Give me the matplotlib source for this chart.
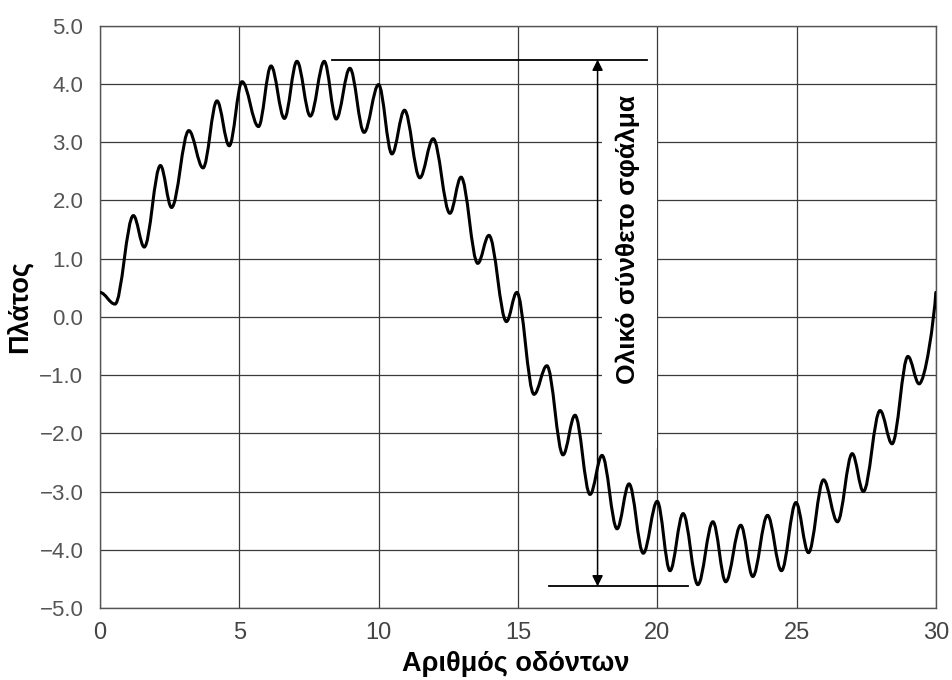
import matplotlib
matplotlib.use('Agg')
import matplotlib.pyplot as plt
from matplotlib.path import Path
from matplotlib.patches import PathPatch, Rectangle

# turning points of the composite error curve
tooth = [0.0, 0.54, 1.2, 1.59, 2.17, 2.57, 3.19, 3.7, 4.2, 4.64,
         5.1, 5.69, 6.14, 6.62, 7.07, 7.55, 8.05, 8.48, 8.97, 9.48,
         10.0, 10.48, 10.93, 11.48, 11.96, 12.56, 12.96, 13.56, 13.96, 14.59,
         14.96, 15.58, 16.04, 16.62, 17.05, 17.59, 18.02, 18.56, 18.99, 19.5,
         20.0, 20.46, 20.93, 21.46, 22.0, 22.46, 23.0, 23.43, 23.96, 24.46,
         24.98, 25.43, 25.97, 26.47, 27.0, 27.4, 28.0, 28.43, 29.0, 29.4,
         30.0]
amp = [0.42, 0.22, 1.74, 1.2, 2.6, 1.88, 3.2, 2.56, 3.71, 2.94,
       4.04, 3.27, 4.31, 3.41, 4.39, 3.45, 4.39, 3.4, 4.27, 3.17,
       3.99, 2.8, 3.55, 2.39, 3.06, 1.78, 2.4, 0.92, 1.4, -0.08,
       0.42, -1.33, -0.84, -2.37, -1.69, -3.05, -2.38, -3.64, -2.87, -4.06,
       -3.17, -4.36, -3.38, -4.6, -3.52, -4.55, -3.58, -4.46, -3.41, -4.36,
       -3.19, -4.05, -2.8, -3.52, -2.35, -3.0, -1.61, -2.18, -0.68, -1.15,
       0.42]

x_ticks = [0, 5, 10, 15, 20, 25, 30]
y_ticks = [-5, -4, -3, -2, -1, 0, 1, 2, 3, 4, 5]
y_ticklabels = ['\u22125.0', '\u22124.0', '\u22123.0', '\u22122.0', '\u22121.0',
                '0.0', '1.0', '2.0', '3.0', '4.0', '5.0']

# total composite error span
err_max = 4.42
err_min = -4.63
err_x = 17.86
top_line = [8.34, 19.64]
bottom_line = [16.1, 21.11]

bold = ['Liberation Sans', 'DejaVu Sans']

fig = plt.figure(figsize=(9.52, 6.8), dpi=100)
ax = fig.add_axes([0.105, 0.106, 0.878, 0.856])
ax.set_axisbelow(True)

# smooth curve through turning points (horizontal tangents at extrema)
verts = [(tooth[0], amp[0])]
codes = [Path.MOVETO]
n = len(tooth)
for i in range(n - 1):
    x0, y0 = tooth[i], amp[i]
    x1, y1 = tooth[i + 1], amp[i + 1]
    dx = x1 - x0
    c1 = (x0 + 0.36 * dx, y0)
    c2 = (x1 - 0.36 * dx, y1)
    if i == n - 2:
        c2 = (x1 - 0.1 * dx, y1 - 0.3 * (y1 - y0))
    verts += [c1, c2, (x1, y1)]
    codes += [Path.CURVE4] * 3
ax.add_patch(PathPatch(Path(verts, codes), fill=False, lw=2.2,
                       edgecolor='black', zorder=3, capstyle='round'))

# white strip behind the vertical label
ax.add_patch(Rectangle((18.02, -2.25), 1.98, 6.22, facecolor='white',
                       edgecolor='none', zorder=1))

ax.plot(top_line, [err_max, err_max], color='black', lw=1.3, zorder=3)
ax.plot(bottom_line, [err_min, err_min], color='black', lw=1.3, zorder=3)
ax.annotate('', xy=(err_x, err_max), xytext=(err_x, err_min),
            arrowprops=dict(arrowstyle='<|-|>', color='black', lw=1.1,
                            mutation_scale=16, shrinkA=0, shrinkB=0),
            zorder=3)
ax.text(18.95, 1.33, 'Ολικό σύνθετο σφάλμα', rotation=90, ha='center',
        va='center', fontsize=19, fontweight='bold', family=bold, zorder=4)

ax.set_xlim(0, 30)
ax.set_ylim(-5, 5)
ax.set_xticks(x_ticks)
ax.set_xticklabels([str(v) for v in x_ticks],
                   family=['Liberation Sans Narrow', 'Liberation Sans'],
                   fontsize=17, color='#444444')
ax.set_yticks(y_ticks)
ax.set_yticklabels(y_ticklabels, family=bold, fontsize=16, color='#555555')
ax.tick_params(axis='both', length=0)
ax.tick_params(axis='y', pad=12)
ax.tick_params(axis='x', pad=10)
ax.grid(True, color='#3a3a3a', lw=0.9)
for s in ax.spines.values():
    s.set_color('#555555')
    s.set_linewidth(1.0)

ax.set_xlabel('Αριθμός οδόντων', fontsize=19.5, fontweight='bold', family=bold)
ax.set_ylabel('Πλάτος', fontsize=19.5, fontweight='bold', family=bold)
ax.xaxis.set_label_coords(0.497, -0.074)
ax.yaxis.set_label_coords(-0.08, 0.517)

fig.savefig('out.png', dpi=100)
